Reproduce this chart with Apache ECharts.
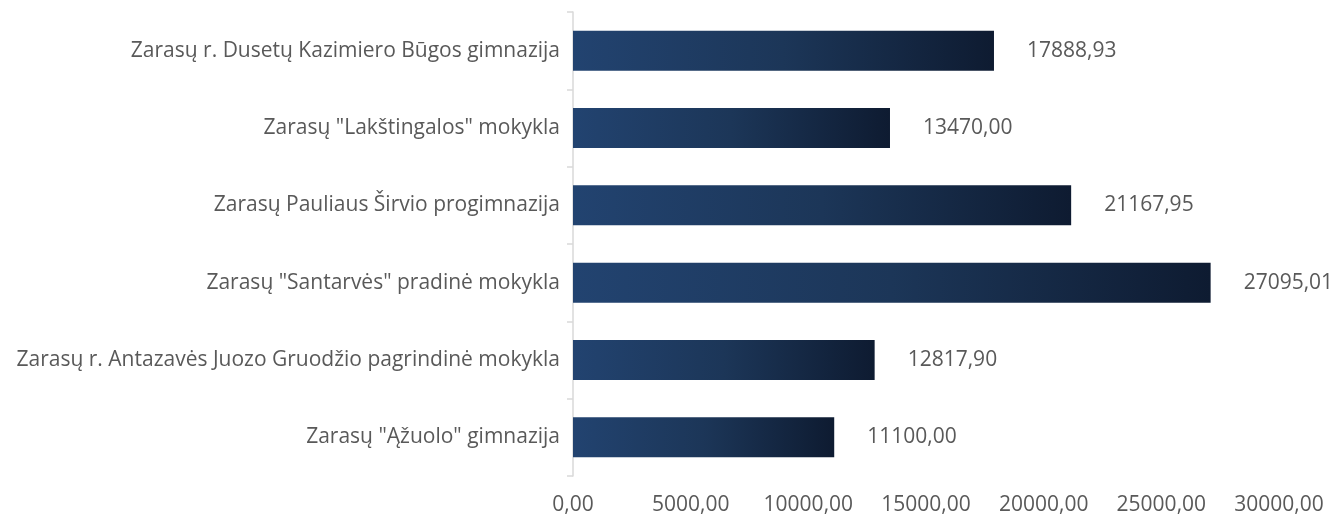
<!DOCTYPE html>
<html>
<head>
<meta charset="utf-8">
<script src="https://cdn.jsdelivr.net/npm/echarts@6/dist/echarts.min.js"></script>
<style>
  html, body { margin: 0; padding: 0; background: #fff; }
  #chart { width: 1329px; height: 518px; }
</style>
</head>
<body>
<div id="chart"></div>
<script>
const schools = [
  'Zarasų r. Dusetų Kazimiero Būgos gimnazija',
  'Zarasų "Lakštingalos" mokykla',
  'Zarasų Pauliaus Širvio progimnazija',
  'Zarasų "Santarvės" pradinė mokykla',
  'Zarasų r. Antazavės Juozo Gruodžio pagrindinė mokykla',
  'Zarasų "Ąžuolo" gimnazija'
];
const amounts = [17888.93, 13470.00, 21167.95, 27095.01, 12817.90, 11100.00];

const fmt = v => Number(v).toFixed(2).replace('.', ',');
const FONT = 'Open Sans';
const TEXT = '#595959';
const SIZE = 21;

const chart = echarts.init(document.getElementById('chart'));

chart.setOption({
  animation: false,
  grid: { left: 573, right: 50, top: 12, bottom: 42 },
  xAxis: {
    type: 'value',
    min: 0,
    max: 30000,
    interval: 5000,
    axisLine: { show: false },
    axisTick: { show: false },
    splitLine: { show: false },
    axisLabel: {
      formatter: fmt,
      margin: 19,
      color: TEXT,
      fontSize: SIZE,
      fontFamily: FONT
    }
  },
  yAxis: {
    type: 'category',
    data: schools,
    inverse: true,
    axisLine: { show: true, lineStyle: { color: '#d9d9d9', width: 1.5 } },
    axisTick: { show: true, length: 6, lineStyle: { color: '#d9d9d9', width: 1.5 } },
    axisLabel: {
      margin: 13,
      color: TEXT,
      fontSize: SIZE,
      fontFamily: FONT
    }
  },
  series: [{
    type: 'bar',
    data: amounts,
    barWidth: 40,
    itemStyle: {
      color: new echarts.graphic.LinearGradient(0, 0, 1, 0, [
        { offset: 0, color: '#224370' },
        { offset: 0.5, color: '#1c3658' },
        { offset: 1, color: '#0e1b31' }
      ])
    },
    label: {
      show: true,
      position: 'right',
      distance: 33,
      formatter: p => fmt(p.value),
      color: TEXT,
      fontSize: SIZE,
      fontFamily: FONT
    }
  }]
});

window.addEventListener('resize', () => chart.resize());
</script>
</body>
</html>
